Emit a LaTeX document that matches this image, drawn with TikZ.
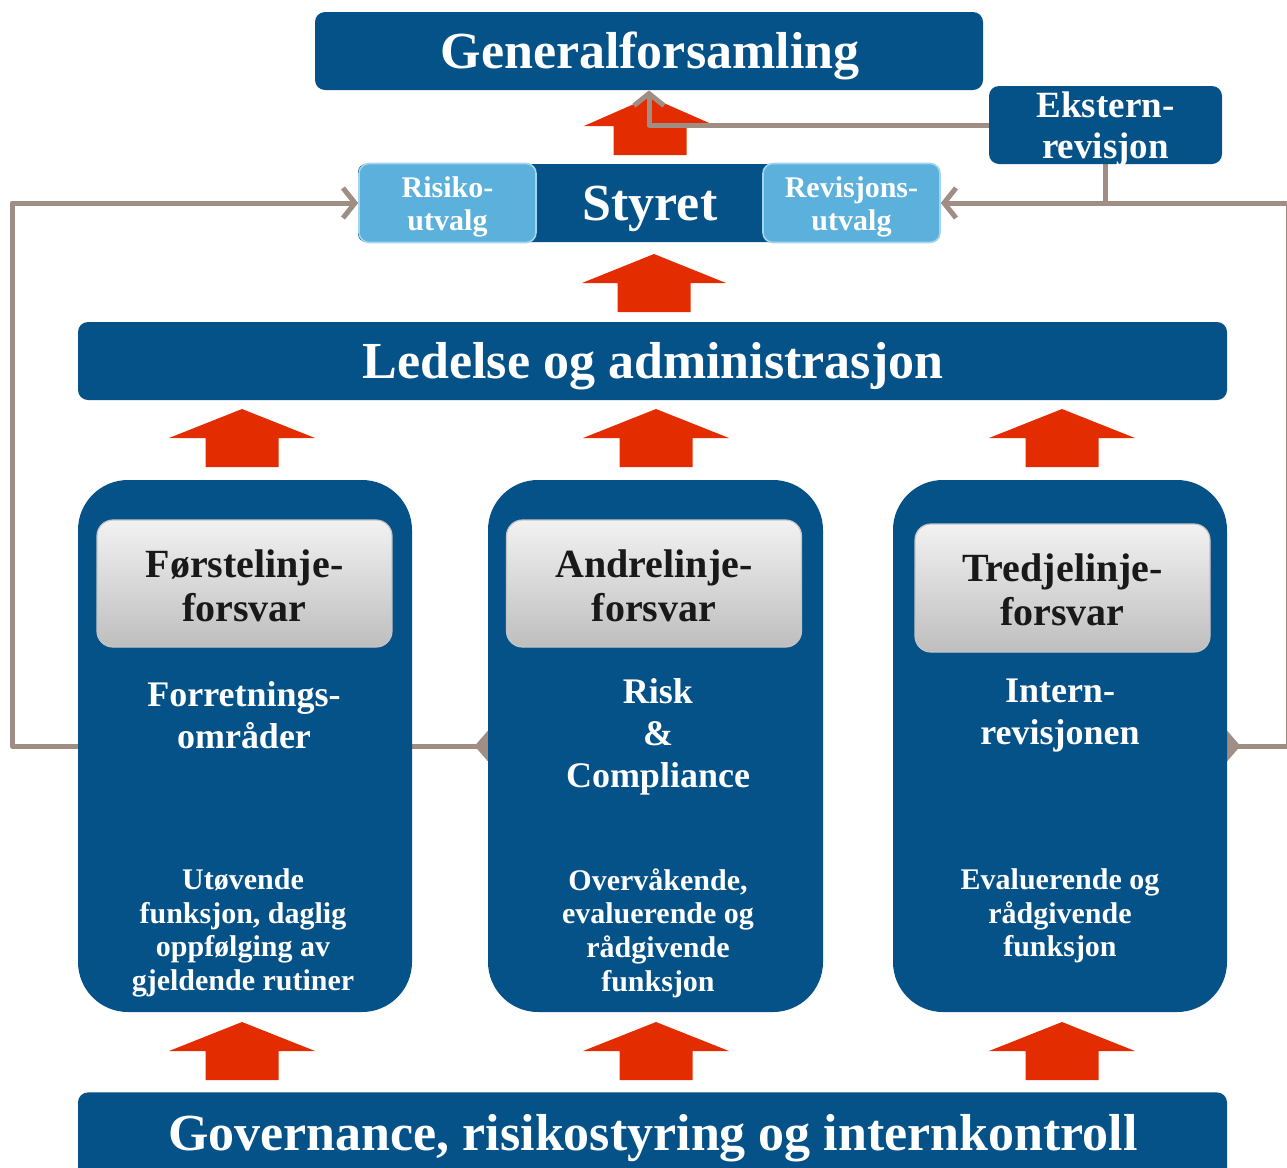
\documentclass[tikz,border=0pt]{standalone}
\usepackage{fontspec}
\setmainfont{Liberation Serif}
\usetikzlibrary{arrows.meta}
\definecolor{dblue}{RGB}{5,82,136}
\definecolor{lblue}{RGB}{92,177,220}
\definecolor{lbord}{RGB}{165,212,238}
\definecolor{redc}{RGB}{227,45,0}
\definecolor{linec}{RGB}{160,141,132}
\definecolor{gtop}{RGB}{242,242,242}
\definecolor{gbot}{RGB}{190,190,190}
\pgfdeclarelayer{arrowlayer}
\pgfdeclarelayer{connlayer}
\pgfsetlayers{arrowlayer,connlayer,main}
\newcommand{\fbig}{\fontsize{26}{30}\selectfont\bfseries}
\newcommand{\fgray}{\fontsize{20}{22}\selectfont\bfseries}
\newcommand{\fhead}{\fontsize{18}{21}\selectfont\bfseries}
\newcommand{\flow}{\fontsize{15}{16.8}\selectfont\bfseries}
\newcommand{\feks}{\fontsize{18.5}{20.5}\selectfont\bfseries}
\newcommand{\fsmall}{\fontsize{15}{16.5}\selectfont\bfseries}
\newcommand{\redup}[3]{\fill[redc] (#1,#2) -- ++(#3,29) -- ++({36.5-#3},0) -- ++(0,29) -- ++(-73,0) -- ++(0,-29) -- ++({36.5-#3},0) -- cycle;}
\begin{document}
\begin{tikzpicture}[x=0.5pt,y=-0.5pt,
  bar/.style={fill=dblue, rounded corners=5pt, inner sep=0pt, text=white},
  col/.style={fill=dblue, rounded corners=25pt, inner sep=0pt, minimum width=167pt, minimum height=266pt},
  gbox/.style={top color=gtop, bottom color=gbot, draw=gbot!90!white, line width=0.6pt, rounded corners=8pt, inner sep=0pt, minimum width=147.5pt, minimum height=63.5pt},
  lbox/.style={fill=lblue, draw=lbord, line width=0.8pt, rounded corners=5pt, inner sep=0pt, minimum width=88.5pt, minimum height=39.5pt},
  wtxt/.style={text=white, align=center, inner sep=0pt},
  btxt/.style={text=black!90, align=center, inner sep=0pt, font=\fgray},
  conn/.style={draw=linec, line width=2.5pt, line join=round},
  barb/.style={-{Straight Barb[length=6pt,width=15pt]}},
  diabarb/.style={{Diamond[length=13pt,width=15pt]}-{Straight Barb[length=6pt,width=15pt]}}]
\path[use as bounding box] (0,0) rectangle (1287,1168);
\clip (0,0) rectangle (1287,1168);

% top nodes
\node[bar, minimum width=334pt, minimum height=39pt] (gf) at (649,51) {};
\node[wtxt, font=\fbig] (gft) at (650,56) {Generalforsamling};
\node[bar, minimum width=116.5pt, minimum height=39pt] (ek) at (1105.5,125) {};
\node[wtxt, font=\feks] (ekt) at (1105.5,129) {Ekstern-\\revisjon};
\node[bar, rounded corners=4pt, minimum width=291pt, minimum height=39pt] (sty) at (649,203) {};
\node[wtxt, font=\fbig] (stytxt) at (650,209) {Styret};
\node[lbox] (ri) at (447.5,203) {};
\node[wtxt, font=\fsmall] (rit) at (447.5,207) {Risiko-\\utvalg};
\node[lbox] (rv) at (851.5,203) {};
\node[wtxt, font=\fsmall] (rvt) at (851.5,207) {Revisjons-\\utvalg};
\node[bar, minimum width=574.5pt, minimum height=39pt] (led) at (652.5,361) {};
\node[wtxt, font=\fbig] (ledt) at (653,366) {Ledelse og administrasjon};

% columns
\node[col] (b1) at (245,746) {};
\node[col, minimum width=167.5pt] (b2) at (655.5,746) {};
\node[col] (b3) at (1060,746) {};

\node[gbox] (g1) at (244.5,583.5) {};
\node[gbox] (g2) at (654,583.5) {};
\node[gbox, minimum height=64pt] (g3) at (1062.5,588) {};
\node[btxt] (g1t) at (244.5,586) {Førstelinje-\\forsvar};
\node[btxt] (g2t) at (654,586) {Andrelinje-\\forsvar};
\node[btxt] (g3t) at (1062.5,590) {Tredjelinje-\\forsvar};

\node[wtxt, font=\fhead] (h1) at (244,715) {Forretnings-\\områder};
\node[wtxt, font=\fhead] (h2) at (658,737) {Risk\\\&\\Compliance};
\node[wtxt, font=\fhead] (h3) at (1060,716) {Intern-\\revisjonen};

\node[wtxt, font=\flow] (l1) at (243,933) {Utøvende\\funksjon, daglig\\oppfølging av\\gjeldende rutiner};
\node[wtxt, font=\flow] (l2) at (658,933) {Overvåkende,\\evaluerende og\\rådgivende\\funksjon};
\node[wtxt, font=\flow] (l3) at (1060,916) {Evaluerende og\\rådgivende\\funksjon};

\node[bar, minimum width=574.5pt, minimum height=44pt, anchor=north] (gov) at (652.5,1092) {};
\node[wtxt, font=\fbig] (govt) at (653,1138) {Governance, risikostyring og internkontroll};

% red arrows
\begin{pgfonlayer}{arrowlayer}
\redup{650}{97}{66}
\redup{654}{254}{72}
\redup{242}{409}{73}
\redup{656}{409}{73}
\redup{1062}{409}{73}
\redup{242}{1022}{73}
\redup{656}{1022}{73}
\redup{1062}{1022}{73}
\end{pgfonlayer}

% connectors
\coordinate (lc1) at (12,746);
\coordinate (lc2) at (12,203);
\coordinate (rc1) at (1288,746);
\coordinate (rc2) at (1288,203);
\begin{pgfonlayer}{connlayer}
\draw[conn, barb] (ek.west) -| (gf.south);
\draw[conn] (ek.south) -- (ek.south |- rv.east);
\draw[conn, diabarb] ([xshift=6.5pt]b2.west) -- (lc1) -- (lc2) -- (ri.west);
\draw[conn, diabarb] ([xshift=-6.5pt]b3.east) -- (rc1) -- (rc2) -- (rv.east);
\end{pgfonlayer}
\end{tikzpicture}
\end{document}
